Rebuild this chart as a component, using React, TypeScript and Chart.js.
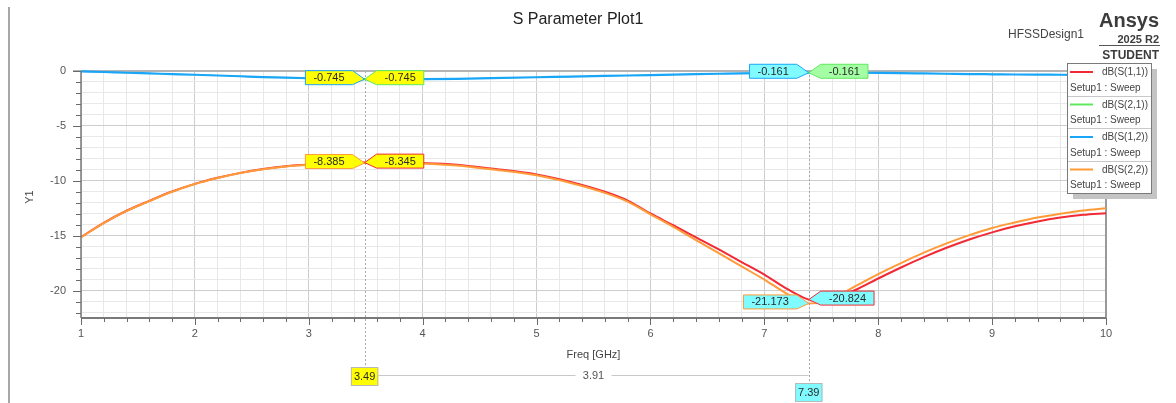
import React, { useEffect, useRef } from "react";
import { Chart, registerables } from "chart.js";

Chart.register(...registerables);

// ---------------- DATA ----------------
const FREQS = [1.0, 1.2, 1.4, 1.6, 1.8, 2.0, 2.2, 2.4, 2.6, 2.8, 3.0, 3.2, 3.49, 3.8, 4.0, 4.3, 4.6, 5.0, 5.3, 5.6, 5.8, 6.0, 6.2, 6.4, 6.6, 6.8, 7.0, 7.2, 7.39, 7.5, 7.6, 7.8, 8.0, 8.2, 8.4, 8.6, 8.8, 9.0, 9.2, 9.4, 9.6, 9.8, 10.0];

const S11 = [-15.13, -13.83, -12.73, -11.83, -10.98, -10.28, -9.73, -9.28, -8.93, -8.68, -8.52, -8.42, -8.345, -8.33, -8.37, -8.53, -8.88, -9.42, -10.1, -11.0, -11.8, -12.98, -14.05, -15.15, -16.25, -17.4, -18.55, -19.85, -20.824, -20.95, -20.8, -19.95, -18.9, -17.9, -16.95, -16.1, -15.35, -14.7, -14.15, -13.7, -13.35, -13.1, -12.95];

const S22 = [-15.15, -13.85, -12.75, -11.85, -11.0, -10.3, -9.75, -9.3, -8.95, -8.7, -8.55, -8.45, -8.385, -8.38, -8.42, -8.6, -8.95, -9.5, -10.2, -11.1, -11.9, -13.05, -14.2, -15.4, -16.6, -17.8, -19.0, -20.3, -21.173, -21.1, -20.7, -19.6, -18.5, -17.5, -16.55, -15.7, -14.95, -14.3, -13.8, -13.35, -13.0, -12.7, -12.5];

const S12 = [-0.03, -0.09, -0.16, -0.22, -0.28, -0.34, -0.41, -0.48, -0.55, -0.61, -0.66, -0.70, -0.745, -0.755, -0.745, -0.71, -0.65, -0.57, -0.51, -0.45, -0.41, -0.37, -0.33, -0.29, -0.25, -0.21, -0.185, -0.17, -0.161, -0.158, -0.157, -0.16, -0.17, -0.19, -0.22, -0.25, -0.28, -0.30, -0.32, -0.33, -0.34, -0.35, -0.36];

const S21 = [-0.03, -0.09, -0.16, -0.22, -0.28, -0.34, -0.41, -0.48, -0.55, -0.61, -0.66, -0.70, -0.745, -0.755, -0.745, -0.71, -0.65, -0.57, -0.51, -0.45, -0.41, -0.37, -0.33, -0.29, -0.25, -0.21, -0.185, -0.17, -0.161, -0.158, -0.157, -0.16, -0.17, -0.19, -0.22, -0.25, -0.28, -0.30, -0.32, -0.33, -0.34, -0.35, -0.36];

const X_TICKS = [1, 2, 3, 4, 5, 6, 7, 8, 9, 10];
const Y_TICKS = [0, -5, -10, -15, -20];
const X_MIN = 1;
const X_MAX = 10;
const Y_MIN = -22.5;
const Y_MAX = 0;
const X_MINOR = 0.2;
const Y_MINOR = 1;

const TRACE_NAMES = ["dB(S(1,1))", "dB(S(2,1))", "dB(S(1,2))", "dB(S(2,2))"];
const TRACE_COLORS = ["#f22a35", "#5fe85f", "#1aa6f8", "#ff9a38"];
const TRACE_WIDTHS = [2, 1, 2.2, 2];
const SWEEP_NAME = "Setup1 : Sweep";

const M1_FREQ = 3.49;
const M2_FREQ = 7.39;
const DELTA_TEXT = "3.91";
// marker read-outs: [trace index, value, side]
const M1_READOUTS: [number, number, string][] = [
  [2, -0.745, "left"],
  [1, -0.745, "right"],
  [3, -8.385, "left"],
  [0, -8.345, "right"],
];
const M2_READOUTS: [number, number, string][] = [
  [2, -0.161, "left"],
  [1, -0.161, "right"],
  [3, -21.173, "left"],
  [0, -20.824, "right"],
];

const FONT = '"Liberation Sans", Arial, sans-serif';

function drawTag(ctx: CanvasRenderingContext2D, text: string, px: number, py: number, side: string, fill: string, stroke: string) {
  ctx.save();
  ctx.font = `11px ${FONT}`;
  const tw = ctx.measureText(text).width;
  const w = tw + 16;
  const h = 14;
  const gap = 12;
  const cy = py - 1.5;
  const y0 = cy - h / 2;
  const y1 = cy + h / 2;
  let x0: number, x1: number;
  ctx.beginPath();
  if (side === "left") {
    x1 = px - gap;
    x0 = x1 - w;
    ctx.moveTo(x0, y0);
    ctx.lineTo(x1, y0);
    ctx.lineTo(px, py);
    ctx.lineTo(x1, y1);
    ctx.lineTo(x0, y1);
  } else {
    x0 = px + gap;
    x1 = x0 + w;
    ctx.moveTo(x1, y0);
    ctx.lineTo(x0, y0);
    ctx.lineTo(px, py);
    ctx.lineTo(x0, y1);
    ctx.lineTo(x1, y1);
  }
  ctx.closePath();
  ctx.fillStyle = fill;
  ctx.fill();
  ctx.lineWidth = 1;
  ctx.strokeStyle = stroke;
  ctx.stroke();
  ctx.fillStyle = "#2a2a2a";
  ctx.textAlign = "center";
  ctx.textBaseline = "middle";
  ctx.fillText(text, (x0 + x1) / 2, cy + 0.5);
  ctx.restore();
}

function drawBox(ctx: CanvasRenderingContext2D, text: string, cx: number, top: number, fill: string) {
  ctx.save();
  ctx.font = `11px ${FONT}`;
  const w = ctx.measureText(text).width + 6;
  const h = 19;
  ctx.fillStyle = fill;
  ctx.fillRect(cx - w / 2, top, w, h);
  ctx.strokeStyle = "#b8b8b8";
  ctx.lineWidth = 1;
  ctx.strokeRect(cx - w / 2 + 0.5, top + 0.5, w - 1, h - 1);
  ctx.fillStyle = "#2a2a2a";
  ctx.textAlign = "center";
  ctx.textBaseline = "middle";
  ctx.fillText(text, cx, top + h / 2 + 0.5);
  ctx.restore();
  return w;
}

const overlay = {
  id: "overlay",
  beforeDatasetsDraw(chart: any) {
    const ctx: CanvasRenderingContext2D = chart.ctx;
    const ca = chart.chartArea;
    ctx.save();
    // plot borders (under the traces)
    ctx.strokeStyle = "#b4b4b4";
    ctx.lineWidth = 2;
    ctx.beginPath();
    ctx.moveTo(ca.left - 8, ca.top);
    ctx.lineTo(ca.right, ca.top);
    ctx.stroke();
    ctx.strokeStyle = "#9a9a9a";
    ctx.beginPath();
    ctx.moveTo(ca.right, ca.top);
    ctx.lineTo(ca.right, ca.bottom);
    ctx.stroke();
    ctx.restore();
  },
  afterDatasetsDraw(chart: any) {
    const ctx: CanvasRenderingContext2D = chart.ctx;
    const ca = chart.chartArea;
    const xs = chart.scales.x;
    const ys = chart.scales.y;
    ctx.save();

    // outer left rule
    ctx.strokeStyle = "#8a8a8a";
    ctx.lineWidth = 1.5;
    ctx.beginPath();
    ctx.moveTo(9, 7);
    ctx.lineTo(9, 403);
    ctx.stroke();

    // axes
    ctx.strokeStyle = "#7a7a7a";
    ctx.lineWidth = 1.5;
    ctx.beginPath();
    ctx.moveTo(ca.left, ca.top);
    ctx.lineTo(ca.left, ca.bottom);
    ctx.stroke();
    ctx.lineWidth = 2;
    ctx.beginPath();
    ctx.moveTo(ca.left, ca.bottom);
    ctx.lineTo(ca.right, ca.bottom);
    ctx.stroke();

    // tick marks
    ctx.lineWidth = 1;
    ctx.strokeStyle = "#6a6a6a";
    for (let v = Y_MAX; v >= Y_MIN; v -= Y_MINOR) {
      const py = Math.round(ys.getPixelForValue(v)) + 0.5;
      const major = Y_TICKS.includes(v);
      ctx.beginPath();
      ctx.moveTo(ca.left - (major ? 8 : 5), py);
      ctx.lineTo(ca.left, py);
      ctx.stroke();
    }
    const nx = Math.round((X_MAX - X_MIN) / X_MINOR);
    for (let k = 0; k <= nx; k++) {
      const v = X_MIN + k * X_MINOR;
      const px = Math.round(xs.getPixelForValue(v)) + 0.5;
      const major = k % 5 === 0;
      ctx.beginPath();
      ctx.moveTo(px, ca.bottom);
      ctx.lineTo(px, ca.bottom + (major ? 7 : 4));
      ctx.stroke();
    }

    // tick labels
    ctx.fillStyle = "#555";
    ctx.font = `11px ${FONT}`;
    ctx.textAlign = "right";
    ctx.textBaseline = "middle";
    Y_TICKS.forEach((v) => ctx.fillText(String(v), ca.left - 15, ys.getPixelForValue(v)));
    ctx.textAlign = "center";
    X_TICKS.forEach((v) => ctx.fillText(String(v), xs.getPixelForValue(v), ca.bottom + 16));

    // axis titles
    ctx.fillStyle = "#444";
    ctx.fillText("Freq [GHz]", (ca.left + ca.right) / 2, ca.bottom + 37);
    ctx.save();
    ctx.translate(30, 197);
    ctx.rotate(-Math.PI / 2);
    ctx.fillText("Y1", 0, 0);
    ctx.restore();

    // marker lines
    const m1x = xs.getPixelForValue(M1_FREQ);
    const m2x = xs.getPixelForValue(M2_FREQ);
    ctx.strokeStyle = "#a8a8a8";
    ctx.lineWidth = 1;
    ctx.setLineDash([2, 2]);
    ctx.beginPath();
    ctx.moveTo(Math.round(m1x) + 0.5, ca.top);
    ctx.lineTo(Math.round(m1x) + 0.5, 367);
    ctx.moveTo(Math.round(m2x) + 0.5, ca.top);
    ctx.lineTo(Math.round(m2x) + 0.5, 383);
    ctx.stroke();
    ctx.setLineDash([]);

    // delta
    const w1 = drawBox(ctx, String(M1_FREQ), m1x, 367, "#ffff00");
    drawBox(ctx, String(M2_FREQ), m2x, 383, "#80fbff");
    const dl = m1x + w1 / 2;
    const mid = (dl + m2x) / 2;
    ctx.strokeStyle = "#c8c8c8";
    ctx.lineWidth = 1;
    ctx.beginPath();
    ctx.moveTo(dl, 375.5);
    ctx.lineTo(mid - 18, 375.5);
    ctx.moveTo(mid + 18, 375.5);
    ctx.lineTo(m2x, 375.5);
    ctx.stroke();
    ctx.fillStyle = "#555";
    ctx.font = `11px ${FONT}`;
    ctx.textAlign = "center";
    ctx.textBaseline = "middle";
    ctx.fillText(DELTA_TEXT, mid, 376);

    // marker read-outs
    M1_READOUTS.forEach(([ti, val, side]) => {
      drawTag(ctx, val.toFixed(3), m1x, ys.getPixelForValue(val), side, "#ffff00", TRACE_COLORS[ti]);
    });
    M2_READOUTS.forEach(([ti, val, side]) => {
      const fill = ti === 1 ? "#a4ffa4" : "#80fbff";
      drawTag(ctx, val.toFixed(3), m2x, ys.getPixelForValue(val), side, fill, TRACE_COLORS[ti]);
    });

    // title + branding
    ctx.fillStyle = "#222";
    ctx.font = `16px ${FONT}`;
    ctx.textAlign = "center";
    ctx.fillText("S Parameter Plot1", 578, 20);
    ctx.fillStyle = "#444";
    ctx.font = `12px ${FONT}`;
    ctx.textAlign = "left";
    ctx.fillText("HFSSDesign1", 1008, 35);
    ctx.fillStyle = "#3c3c3c";
    ctx.font = `bold 20px ${FONT}`;
    ctx.fillText("Ansys", 1099, 21);
    ctx.font = `bold 11px ${FONT}`;
    ctx.textAlign = "right";
    ctx.fillText("2025 R2", 1159, 39.5);
    ctx.font = `bold 12px ${FONT}`;
    ctx.fillText("STUDENT", 1159, 56);
    ctx.strokeStyle = "#555";
    ctx.lineWidth = 1;
    ctx.beginPath();
    ctx.moveTo(1099, 45.5);
    ctx.lineTo(1160, 45.5);
    ctx.stroke();

    // legend
    const lx0 = 1067, ly0 = 63, lw = 84, eh = 32.5;
    const lh = eh * TRACE_NAMES.length;
    ctx.fillStyle = "#c4c4c4";
    ctx.fillRect(lx0 + 6, ly0 + 6, lw, lh);
    ctx.fillStyle = "#fff";
    ctx.fillRect(lx0, ly0, lw, lh);
    ctx.strokeStyle = "#7a7a7a";
    ctx.strokeRect(lx0 + 0.5, ly0 + 0.5, lw, lh);
    TRACE_NAMES.forEach((name, i) => {
      const top = ly0 + i * eh;
      if (i > 0) {
        ctx.strokeStyle = "#c8c8c8";
        ctx.beginPath();
        ctx.moveTo(lx0 + 1, Math.round(top) + 0.5);
        ctx.lineTo(lx0 + lw, Math.round(top) + 0.5);
        ctx.stroke();
      }
      ctx.strokeStyle = TRACE_COLORS[i];
      ctx.lineWidth = 2;
      ctx.beginPath();
      ctx.moveTo(lx0 + 3, top + 9);
      ctx.lineTo(lx0 + 26, top + 9);
      ctx.stroke();
      ctx.lineWidth = 1;
      ctx.fillStyle = "#444";
      ctx.font = `10px ${FONT}`;
      ctx.textBaseline = "middle";
      ctx.textAlign = "right";
      ctx.fillText(name, lx0 + lw - 3, top + 9.5);
      ctx.textAlign = "left";
      ctx.fillText(SWEEP_NAME, lx0 + 3, top + 25);
    });

    ctx.restore();
  },
};

export default function App() {
  const ref = useRef<HTMLCanvasElement | null>(null);
  useEffect(() => {
    if (!ref.current) return;
    const series = [S11, S21, S12, S22];
    // later traces are drawn on top (lower order = on top)
    const orders = [3, 2, 1, 0];
    const chart = new Chart(ref.current, {
      type: "line",
      data: {
        datasets: series.map((s, i) => ({
          label: TRACE_NAMES[i],
          data: FREQS.map((f, k) => ({ x: f, y: s[k] })),
          borderColor: TRACE_COLORS[i],
          borderWidth: TRACE_WIDTHS[i],
          pointRadius: 0,
          fill: false,
          cubicInterpolationMode: "monotone" as const,
          order: orders[i],
        })),
      },
      options: {
        animation: false,
        responsive: false,
        devicePixelRatio: 1,
        layout: { padding: { top: 71, right: 70, left: 0, bottom: 0 } },
        plugins: { legend: { display: false }, tooltip: { enabled: false }, title: { display: false } },
        scales: {
          x: {
            type: "linear",
            min: X_MIN,
            max: X_MAX,
            afterBuildTicks: (scale: any) => {
              const n = Math.round((X_MAX - X_MIN) / X_MINOR);
              const t = [];
              for (let k = 0; k <= n; k++) t.push({ value: X_MIN + k * X_MINOR });
              scale.ticks = t;
            },
            afterFit: (scale: any) => {
              scale.height = 85;
            },
            ticks: { display: false },
            border: { display: false },
            grid: {
              drawTicks: false,
              color: (c: any) => {
                const v = c.tick ? c.tick.value : 0;
                return Math.abs(v - Math.round(v)) < 1e-6 ? "#cdcdcd" : "#e8e8e8";
              },
            },
          },
          y: {
            type: "linear",
            min: Y_MIN,
            max: Y_MAX,
            afterBuildTicks: (scale: any) => {
              const t = [];
              for (let v = Y_MAX; v >= Y_MIN; v -= Y_MINOR) t.push({ value: v });
              scale.ticks = t.reverse();
            },
            afterFit: (scale: any) => {
              scale.width = 81;
            },
            ticks: { display: false },
            border: { display: false },
            grid: {
              drawTicks: false,
              color: (c: any) => {
                const v = c.tick ? c.tick.value : 0;
                return Y_TICKS.includes(v) ? "#cdcdcd" : "#e8e8e8";
              },
            },
          },
        },
        clip: 4,
      } as any,
      plugins: [overlay],
    });
    return () => chart.destroy();
  }, []);
  return (
    <div style={{ position: "absolute", left: 0, top: 0, width: 1176, height: 403, background: "#fff" }}>
      <canvas ref={ref} width={1176} height={403} style={{ display: "block" }} />
    </div>
  );
}
